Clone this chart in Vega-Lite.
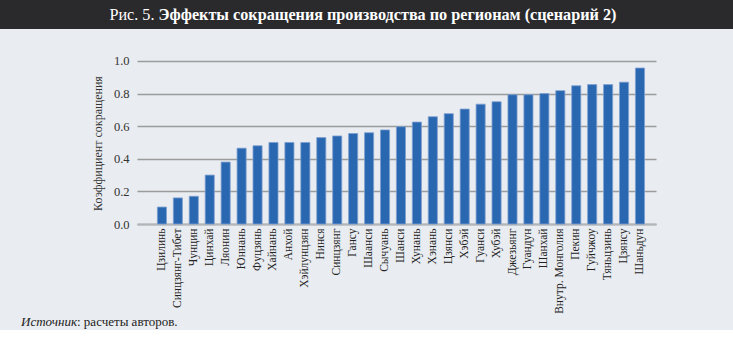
{
  "$schema": "https://vega.github.io/schema/vega-lite/v6.json",
  "background": "#e9ecf0",
  "padding": 0,
  "config": {"view": {"stroke": null}, "font": "Liberation Serif"},
  "columns": 1,
  "spacing": 0,
  "concat": [
    {
      "width": 733,
      "height": 29,
      "view": {"fill": "#2a2a2d", "stroke": null},
      "data": {"values": [{"t1": "Рис. 5.", "t2": "Эффекты сокращения производства по регионам (сценарий 2)"}]},
      "layer": [
        {"mark": {"type": "text", "align": "right", "dx": -212, "font": "Liberation Serif", "fontSize": 16.2, "color": "#ffffff"}, "encoding": {"text": {"field": "t1"}}},
        {"mark": {"type": "text", "align": "left", "dx": -208, "font": "Liberation Serif", "fontSize": 16.2, "fontWeight": "bold", "color": "#ffffff"}, "encoding": {"text": {"field": "t2"}}}
      ]
    },
    {
      "spacing": 0,
      "hconcat": [
        {
          "width": 91,
          "height": 10,
          "data": {"values": [{"t": ""}]},
          "mark": {"type": "text"},
          "encoding": {"text": {"field": "t"}}
        },
        {
          "width": 519,
          "height": 194,
          "data": {"values": [
            {"region": "Цзилинь", "value": 0.104},
            {"region": "Синцзянг-Тибет", "value": 0.16},
            {"region": "Чунцин", "value": 0.17},
            {"region": "Цинхай", "value": 0.30},
            {"region": "Ляонин", "value": 0.38},
            {"region": "Юннань", "value": 0.465},
            {"region": "Фуцзянь", "value": 0.48},
            {"region": "Хайнань", "value": 0.50},
            {"region": "Анхой", "value": 0.50},
            {"region": "Хэйлунцзян", "value": 0.50},
            {"region": "Нинся", "value": 0.53},
            {"region": "Синцзянг", "value": 0.54},
            {"region": "Гансу", "value": 0.555},
            {"region": "Шаанси", "value": 0.56},
            {"region": "Сычуань", "value": 0.577},
            {"region": "Шанси", "value": 0.597},
            {"region": "Хунань", "value": 0.625},
            {"region": "Хэнань", "value": 0.658},
            {"region": "Цзянси", "value": 0.677},
            {"region": "Хэбэй", "value": 0.705},
            {"region": "Гуанси", "value": 0.735},
            {"region": "Хубэй", "value": 0.75},
            {"region": "Джезьянг", "value": 0.793},
            {"region": "Гуандун", "value": 0.793},
            {"region": "Шанхай", "value": 0.80},
            {"region": "Внутр. Монголия", "value": 0.818},
            {"region": "Пекин", "value": 0.848},
            {"region": "Гуйчжоу", "value": 0.855},
            {"region": "Тяньцзинь", "value": 0.855},
            {"region": "Цзянсу", "value": 0.87},
            {"region": "Шаньдун", "value": 0.957}
          ]},
          "mark": {"type": "bar", "color": "#2a67b1", "stroke": "#7d9fd0", "strokeWidth": 0.8},
          "encoding": {
            "x": {
              "field": "region", "type": "nominal", "sort": null,
              "scale": {"paddingInner": 0.43, "paddingOuter": 1.2, "align": 0.64},
              "axis": {"title": null, "labelAngle": -90, "labelFont": "Liberation Serif", "labelFontSize": 11.5, "labelColor": "#222222", "labelPadding": 4, "ticks": false, "domainColor": "#b3b5b8", "domainWidth": 2}
            },
            "y": {
              "field": "value", "type": "quantitative",
              "scale": {"domain": [0, 1.19], "nice": false},
              "axis": {"title": "Коэффициент сокращения", "values": [0, 0.2, 0.4, 0.6, 0.8, 1.0], "format": ".1f", "ticks": false, "domain": false, "labelFont": "Liberation Serif", "labelFontSize": 12.5, "labelColor": "#333333", "labelPadding": 8, "gridColor": "#9c9c9c", "gridWidth": 1.3, "titleFont": "Liberation Serif", "titleFontSize": 12, "titleFontWeight": "normal", "titleColor": "#333333", "titlePadding": 9, "titleY": 113}
            }
          }
        }
      ]
    },
    {
      "width": 154,
      "height": 16,
      "data": {"values": [{"a": "Источник", "b": ": расчеты авторов."}]},
      "layer": [
        {"mark": {"type": "text", "align": "right", "font": "Liberation Serif", "fontSize": 13, "fontStyle": "italic", "color": "#222222"}, "encoding": {"text": {"field": "a"}}},
        {"mark": {"type": "text", "align": "left", "font": "Liberation Serif", "fontSize": 13, "color": "#222222"}, "encoding": {"text": {"field": "b"}}}
      ]
    }
  ]
}
